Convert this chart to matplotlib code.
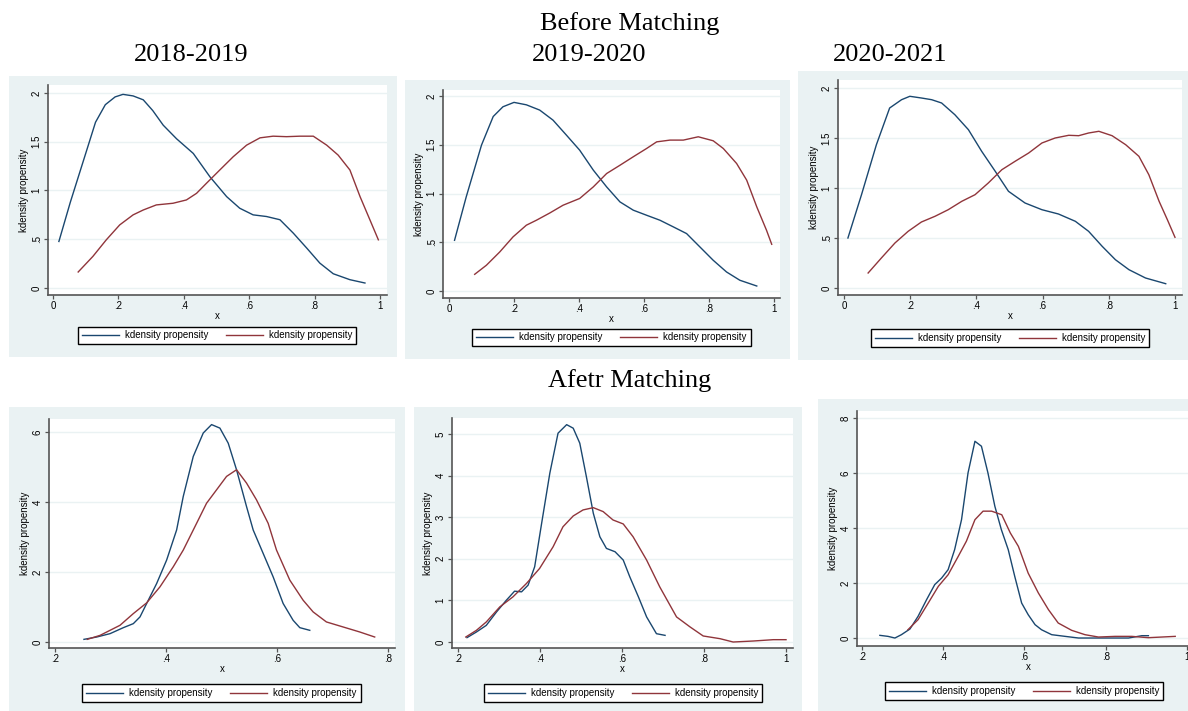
import numpy as np
import matplotlib
matplotlib.use("Agg")
import matplotlib.pyplot as plt
from matplotlib.patches import Rectangle
from matplotlib.ticker import FuncFormatter

# ---- data (x, density) ----
# Before matching, 2018-2019
b1_blue_x = [0.018, 0.053, 0.100, 0.130, 0.160, 0.190, 0.214, 0.245, 0.276, 0.305, 0.337, 0.378, 0.429, 0.480, 0.531, 0.571, 0.612, 0.653, 0.694, 0.735, 0.776, 0.816, 0.857, 0.908, 0.954]
b1_blue_y = [0.477, 0.88, 1.38, 1.70, 1.88, 1.96, 1.986, 1.97, 1.93, 1.82, 1.67, 1.53, 1.38, 1.14, 0.937, 0.818, 0.75, 0.733, 0.70, 0.562, 0.409, 0.255, 0.146, 0.085, 0.051]
b1_red_x = [0.077, 0.122, 0.163, 0.204, 0.245, 0.276, 0.316, 0.367, 0.408, 0.439, 0.469, 0.510, 0.551, 0.592, 0.633, 0.673, 0.714, 0.755, 0.796, 0.837, 0.872, 0.908, 0.939, 0.969, 0.995]
b1_red_y = [0.164, 0.324, 0.494, 0.647, 0.75, 0.80, 0.852, 0.869, 0.903, 0.971, 1.073, 1.21, 1.346, 1.465, 1.54, 1.557, 1.552, 1.557, 1.557, 1.465, 1.363, 1.21, 0.937, 0.70, 0.494]

# Before matching, 2019-2020
b2_blue_x = [0.017, 0.053, 0.100, 0.136, 0.166, 0.200, 0.238, 0.279, 0.320, 0.361, 0.402, 0.444, 0.485, 0.526, 0.567, 0.608, 0.649, 0.690, 0.731, 0.772, 0.813, 0.854, 0.895, 0.947]
b2_blue_y = [0.52, 0.966, 1.497, 1.79, 1.89, 1.935, 1.91, 1.856, 1.753, 1.60, 1.445, 1.24, 1.068, 0.914, 0.829, 0.777, 0.726, 0.658, 0.589, 0.452, 0.315, 0.195, 0.11, 0.051]
b2_red_x = [0.079, 0.115, 0.156, 0.197, 0.238, 0.269, 0.310, 0.351, 0.402, 0.444, 0.485, 0.526, 0.567, 0.608, 0.639, 0.680, 0.721, 0.767, 0.813, 0.844, 0.885, 0.916, 0.947, 0.977, 0.993]
b2_red_y = [0.171, 0.264, 0.40, 0.555, 0.675, 0.726, 0.80, 0.88, 0.949, 1.068, 1.205, 1.29, 1.377, 1.462, 1.53, 1.548, 1.548, 1.582, 1.541, 1.462, 1.308, 1.137, 0.863, 0.623, 0.479]

# Before matching, 2020-2021
b3_blue_x = [0.012, 0.053, 0.098, 0.138, 0.174, 0.199, 0.234, 0.265, 0.295, 0.335, 0.376, 0.416, 0.457, 0.497, 0.547, 0.598, 0.648, 0.699, 0.739, 0.780, 0.820, 0.861, 0.911, 0.972]
b3_blue_y = [0.50, 0.933, 1.433, 1.80, 1.883, 1.917, 1.90, 1.883, 1.85, 1.733, 1.583, 1.367, 1.167, 0.967, 0.85, 0.783, 0.74, 0.667, 0.567, 0.417, 0.283, 0.183, 0.10, 0.043]
b3_red_x = [0.073, 0.113, 0.154, 0.194, 0.234, 0.275, 0.315, 0.356, 0.396, 0.436, 0.477, 0.517, 0.558, 0.598, 0.638, 0.679, 0.709, 0.739, 0.770, 0.810, 0.851, 0.891, 0.921, 0.952, 0.977, 1.000]
b3_red_y = [0.15, 0.30, 0.45, 0.567, 0.66, 0.717, 0.783, 0.867, 0.933, 1.05, 1.183, 1.267, 1.35, 1.45, 1.50, 1.527, 1.523, 1.55, 1.567, 1.523, 1.433, 1.317, 1.133, 0.867, 0.683, 0.507]

# After matching, 2018-2019
a1_blue_x = [0.252, 0.275, 0.299, 0.323, 0.341, 0.353, 0.365, 0.383, 0.401, 0.419, 0.431, 0.449, 0.467, 0.482, 0.497, 0.512, 0.527, 0.545, 0.557, 0.575, 0.593, 0.611, 0.629, 0.641, 0.659]
a1_blue_y = [0.076, 0.143, 0.239, 0.41, 0.525, 0.717, 1.10, 1.67, 2.34, 3.20, 4.16, 5.30, 5.97, 6.21, 6.11, 5.68, 4.92, 3.87, 3.20, 2.53, 1.86, 1.10, 0.62, 0.41, 0.334]
a1_red_x = [0.258, 0.281, 0.299, 0.317, 0.341, 0.365, 0.389, 0.413, 0.431, 0.455, 0.473, 0.491, 0.509, 0.527, 0.545, 0.563, 0.584, 0.599, 0.623, 0.647, 0.665, 0.689, 0.719, 0.749, 0.776]
a1_red_y = [0.076, 0.19, 0.334, 0.478, 0.812, 1.118, 1.576, 2.15, 2.627, 3.39, 3.965, 4.347, 4.73, 4.92, 4.54, 4.06, 3.39, 2.627, 1.768, 1.194, 0.86, 0.573, 0.43, 0.287, 0.143]

# After matching, 2019-2020
a2_blue_x = [0.222, 0.245, 0.269, 0.294, 0.318, 0.338, 0.355, 0.371, 0.387, 0.404, 0.424, 0.444, 0.465, 0.481, 0.497, 0.513, 0.530, 0.546, 0.562, 0.583, 0.603, 0.619, 0.640, 0.660, 0.684, 0.705]
a2_blue_y = [0.105, 0.241, 0.40, 0.723, 1.005, 1.222, 1.206, 1.367, 1.809, 2.854, 4.06, 5.02, 5.225, 5.14, 4.78, 3.98, 3.095, 2.53, 2.25, 2.17, 1.97, 1.567, 1.085, 0.603, 0.20, 0.16]
a2_red_x = [0.219, 0.245, 0.269, 0.302, 0.334, 0.367, 0.399, 0.432, 0.456, 0.481, 0.505, 0.530, 0.554, 0.578, 0.603, 0.627, 0.660, 0.692, 0.733, 0.766, 0.798, 0.839, 0.871, 0.920, 0.969, 1.000]
a2_red_y = [0.12, 0.281, 0.482, 0.844, 1.085, 1.407, 1.768, 2.29, 2.77, 3.03, 3.175, 3.23, 3.135, 2.934, 2.838, 2.53, 1.97, 1.326, 0.603, 0.362, 0.145, 0.08, 0.0, 0.024, 0.056, 0.056]

# After matching, 2020-2021
a3_blue_x = [0.244, 0.264, 0.281, 0.297, 0.318, 0.338, 0.359, 0.379, 0.396, 0.412, 0.428, 0.445, 0.461, 0.478, 0.494, 0.510, 0.527, 0.543, 0.560, 0.576, 0.593, 0.609, 0.626, 0.642, 0.667, 0.700, 0.733, 0.774, 0.815, 0.856, 0.889, 0.905]
a3_blue_y = [0.097, 0.06, 0.0, 0.121, 0.327, 0.788, 1.394, 1.94, 2.18, 2.485, 3.21, 4.30, 6.0, 7.15, 6.97, 6.0, 4.79, 3.94, 3.21, 2.24, 1.27, 0.85, 0.485, 0.30, 0.121, 0.06, 0.0, 0.0, 0.0, 0.0, 0.085, 0.085]
a3_red_x = [0.313, 0.338, 0.363, 0.388, 0.412, 0.437, 0.457, 0.478, 0.498, 0.519, 0.544, 0.565, 0.585, 0.609, 0.634, 0.659, 0.683, 0.716, 0.749, 0.782, 0.823, 0.864, 0.905, 0.938, 0.971]
a3_red_y = [0.30, 0.667, 1.27, 1.88, 2.30, 2.97, 3.52, 4.30, 4.61, 4.61, 4.48, 3.82, 3.33, 2.36, 1.64, 1.03, 0.545, 0.28, 0.121, 0.036, 0.06, 0.06, 0.012, 0.036, 0.06]

titles_top = ["2018-2019", "2019-2020", "2020-2021"]
legend_labels = ["kdensity propensity", "kdensity propensity"]

# ---- layout (pixels) ----
W, H = 1188, 711
BLUE = "#1a476f"
RED = "#90353b"
BG = "#eaf2f3"

panels = [
    # background box, axes box (l, r, t, b), xlim, ylim, xticks, yticks, legend center
    dict(bg=(9, 397, 76, 357), ax=(48, 387, 85, 295), xlim=(-0.0153, 1.0214), ylim=(-0.072, 2.082),
         xt=[0, .2, .4, .6, .8, 1], yt=[0, .5, 1, 1.5, 2], leg=(217, 335.5),
         data=(b1_blue_x, b1_blue_y, b1_red_x, b1_red_y)),
    dict(bg=(405, 790, 80, 359), ax=(443, 780, 90, 298), xlim=(-0.0185, 1.0185), ylim=(-0.072, 2.062),
         xt=[0, .2, .4, .6, .8, 1], yt=[0, .5, 1, 1.5, 2], leg=(611.5, 337.5),
         data=(b2_blue_x, b2_blue_y, b2_red_x, b2_red_y)),
    dict(bg=(798, 1188, 71, 360), ax=(838, 1182, 80, 295), xlim=(-0.018, 1.0212), ylim=(-0.07, 2.08),
         xt=[0, .2, .4, .6, .8, 1], yt=[0, .5, 1, 1.5, 2], leg=(1010, 338),
         data=(b3_blue_x, b3_blue_y, b3_red_x, b3_red_y)),
    dict(bg=(9, 405, 407, 711), ax=(49, 395, 419, 648), xlim=(0.189, 0.8126), ylim=(-0.171, 6.37),
         xt=[.2, .4, .6, .8], yt=[0, 2, 4, 6], leg=(221.5, 693),
         data=(a1_blue_x, a1_blue_y, a1_red_x, a1_red_y)),
    dict(bg=(414, 802, 407, 711), ax=(452, 793, 418, 648), xlim=(0.1854, 1.017), ylim=(-0.144, 5.385),
         xt=[.2, .4, .6, .8, 1], yt=[0, 1, 2, 3, 4, 5], leg=(623, 693),
         data=(a2_blue_x, a2_blue_y, a2_red_x, a2_red_y)),
    dict(bg=(818, 1188, 399, 711), ax=(857, 1200, 411, 646), xlim=(0.1877, 1.032), ylim=(-0.29, 8.25),
         xt=[.2, .4, .6, .8, 1], yt=[0, 2, 4, 6, 8], leg=(1024, 691),
         data=(a3_blue_x, a3_blue_y, a3_red_x, a3_red_y)),
]


def stata_num(v, pos=None):
    s = ("%g" % v)
    if s.startswith("0."):
        s = s[1:]
    return s


fig = plt.figure(figsize=(W / 100, H / 100), dpi=100)
fig.patch.set_facecolor("white")
sans = ["Liberation Sans", "DejaVu Sans"]
serif = ["Liberation Serif", "DejaVu Serif"]

for p in panels:
    l, r, t, b = p["bg"]
    fig.patches.append(Rectangle((l / W, 1 - b / H), (r - l) / W, (b - t) / H,
                                 transform=fig.transFigure, facecolor=BG,
                                 edgecolor="none", zorder=-10))
    l, r, t, b = p["ax"]
    ax = fig.add_axes([l / W, 1 - b / H, (r - l) / W, (b - t) / H])
    ax.set_facecolor("white")
    bx, by, rx, ry = p["data"]
    ax.plot(bx, by, color=BLUE, lw=1.0, label=legend_labels[0], solid_joinstyle="round")
    ax.plot(rx, ry, color=RED, lw=1.0, label=legend_labels[1], solid_joinstyle="round")
    ax.set_xlim(*p["xlim"])
    ax.set_ylim(*p["ylim"])
    ax.set_xticks(p["xt"])
    ax.set_yticks(p["yt"])
    ax.xaxis.set_major_formatter(FuncFormatter(stata_num))
    ax.yaxis.set_major_formatter(FuncFormatter(stata_num))
    for s in ["top", "right"]:
        ax.spines[s].set_visible(False)
    for s in ["left", "bottom"]:
        ax.spines[s].set_color("#555555")
        ax.spines[s].set_linewidth(1.2)
    ax.grid(axis="y", color=BG, lw=1.0)
    ax.set_axisbelow(True)
    ax.tick_params(length=3, width=0.9, color="#555555", labelsize=7, pad=1.5)
    for lab in ax.get_yticklabels():
        lab.set_rotation(90)
        lab.set_va("center")
        lab.set_family(sans)
    for lab in ax.get_xticklabels():
        lab.set_family(sans)
    ax.set_xlabel("x", fontsize=7, family=sans, labelpad=0)
    ax.set_ylabel("kdensity propensity", fontsize=7, family=sans, labelpad=2)
    cx, cy = p["leg"]
    leg = ax.legend(loc="center", bbox_to_anchor=(cx / W, 1 - cy / H),
                    bbox_transform=fig.transFigure, ncol=2,
                    prop={"family": sans, "size": 7},
                    handlelength=3.8, handletextpad=0.6, columnspacing=1.85,
                    borderpad=0.4, fancybox=False, framealpha=1)
    leg.get_frame().set_edgecolor("black")
    leg.get_frame().set_linewidth(1.0)

fig.text(630 / W, 1 - 30 / H, "Before Matching", family=serif, fontsize=19,
         ha="center", va="baseline")
for cx, txt in zip([191, 589, 890], titles_top):
    fig.text(cx / W, 1 - 61 / H, txt, family=serif, fontsize=19,
             ha="center", va="baseline")
fig.text(630 / W, 1 - 387 / H, "Afetr Matching", family=serif, fontsize=19,
         ha="center", va="baseline")

fig.savefig("out.png", dpi=100)
